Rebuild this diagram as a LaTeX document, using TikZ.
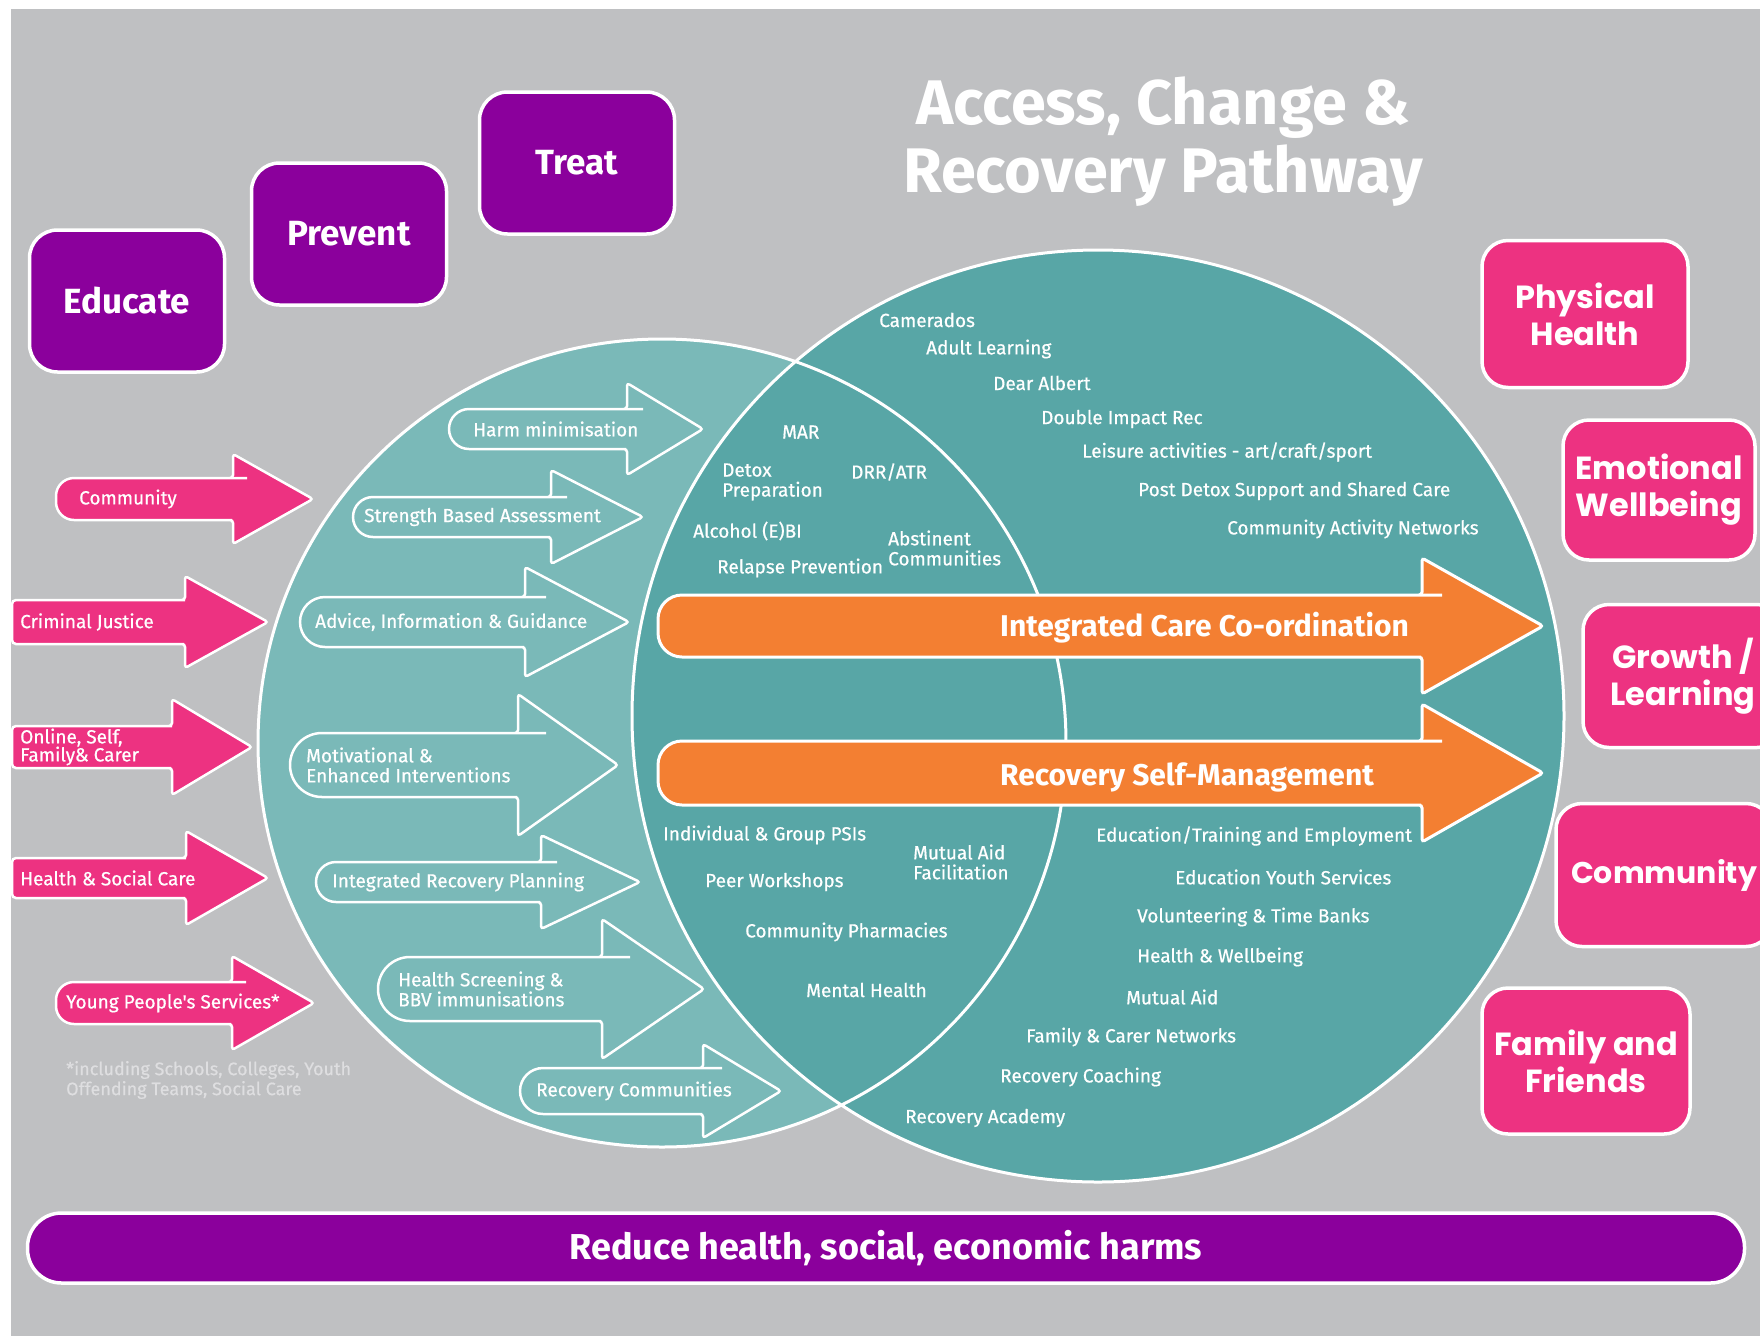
\documentclass[tikz,border=0pt]{standalone}
\usepackage{fontspec}
\setmainfont{Fira Sans}
\newfontfamily\lblfont[FakeBold=0.6]{Fira Sans}
\newfontfamily\boxfont{Poppins}
\definecolor{bggrey}{RGB}{191,192,194}
\definecolor{tealleft}{RGB}{122,185,184}
\definecolor{tealright}{RGB}{88,166,166}
\definecolor{pathorange}{RGB}{243,127,50}
\definecolor{hotpink}{RGB}{237,50,129}
\definecolor{deeppurple}{RGB}{139,0,156}
\definecolor{notegrey}{RGB}{222,222,224}

% Blockpfeil: [Stil]{x hinten}{x Kopfansatz}{x Spitze}{y Mitte}{halbe Schaftbreite}{halbe Kopfbreite}{Radius hinten}
\newcommand{\blockarrow}[8][]{%
  \draw[#1, rounded corners=3pt] (#4,#5) -- (#3,{#5+#7}) -- (#3,{#5+#6}) -- ({#3-4},{#5+#6})
    [rounded corners=#8] -- (#2,{#5+#6}) -- (#2,{#5-#6}) -- ({#3-4},{#5-#6})
    [rounded corners=3pt] -- (#3,{#5-#6}) -- (#3,{#5-#7}) -- cycle;}

\begin{document}
\begin{tikzpicture}[x=1pt, y=-1pt,
    lbl/.style={anchor=west, text=white, inner sep=0pt, align=left, font=\lblfont\fontsize{19}{20}\selectfont},
    ghostarrow/.style={draw=white, line width=2.5pt},
    pinkarrow/.style={fill=hotpink, draw=white, line width=2.5pt},
    orangearrow/.style={fill=pathorange, draw=white, line width=3pt},
    arrowtext/.style={anchor=west, text=white, inner sep=0pt, font=\fontsize{30}{32}\selectfont\bfseries},
    title/.style={text=white, align=center, font=\fontsize{63}{68}\selectfont\bfseries},
    purplebox/.style={fill=deeppurple, draw=white, line width=3.5pt, rounded corners=28pt,
      minimum width=195pt, minimum height=142pt, text=white, font=\fontsize{35}{38}\selectfont\bfseries},
    pinkbox/.style={fill=hotpink, draw=white, line width=3.5pt, rounded corners=26pt,
      text=white, align=center, font=\boxfont\fontsize{32}{37}\selectfont\bfseries},
    harmbar/.style={fill=deeppurple, draw=white, line width=3.5pt, rounded corners=34pt,
      minimum width=1717pt, minimum height=70pt, text=white, font=\fontsize{36}{38}\selectfont\bfseries}]
  % Rahmen und Hintergrund
  \useasboundingbox (0,0) rectangle (1760,1336);
  \clip (0,0) rectangle (1760,1336);
  \fill[white] (0,0) rectangle (1760,1336);
  \fill[bggrey] (11,9) rectangle (1760,1336);

  % Ueberschrift
  \node[title] (title) at (1163,142) {Access, Change \&\\Recovery Pathway};

  % Educate - Prevent - Treat
  \node[purplebox] (educate) at (127,301) {Educate};
  \node[purplebox] (prevent) at (349,234) {Prevent};
  \node[purplebox] (treat) at (577,163) {Treat};

  % die beiden Kreise
  \fill[tealleft] (662,743) circle[radius=404];
  \fill[tealright] (1098,716) circle[radius=466];
  \draw[white, line width=3pt] (662,743) circle[radius=404] (1098,716) circle[radius=466];

  % Pfeile im linken Kreis
  \foreach \xa/\xb/\xc/\ym/\sw/\hw/\tx/\txt [count=\i] in {
      449/627/703/429/20/46/473/{Harm minimisation},
      353/551/643/517/20/47/364/{Strength Based Assessment},
      300/525/629/622/25/55/315/{Advice, Information \& Guidance},
      290/518/618/765/32/71/306/{Motivational \&\\Enhanced Interventions},
      316/541/640/882/20/47/332/{Integrated Recovery Planning},
      378/602/704/989/32/70/398/{Health Screening \&\\BBV immunisations},
      520/703/781/1091/23/47/536/{Recovery Communities}} {
    \blockarrow[ghostarrow]{\xa}{\xb}{\xc}{\ym}{\sw}{\hw}{\sw pt}
    \node[lbl] (svc\i) at (\tx,\ym) {\txt};
  }

  % Schnittmenge
  \foreach \px/\py/\txt [count=\i] in {
      782/432/MAR, 722/482/{Detox\\Preparation}, 851/472/{DRR/ATR},
      693/531/{Alcohol (E)BI}, 888/548/{Abstinent\\Communities}, 717/568/{Relapse Prevention},
      663/835/{Individual \& Group PSIs}, 913/862/{Mutual Aid\\Facilitation},
      705/882/{Peer Workshops}, 745/932/{Community Pharmacies}, 806/990/{Mental Health}}
    \node[lbl] (lens\i) at (\px,\py) {\txt};

  % rechter Kreis
  \foreach \px/\py/\txt [count=\i] in {
      879/320/Camerados, 926/349/{Adult Learning}, 993/383/{Dear Albert},
      1041/419/{Double Impact Rec}, 1082/452/{Leisure activities - art/craft/sport},
      1138/491/{Post Detox Support and Shared Care}, 1227/529/{Community Activity Networks},
      1096/836/{Education/Training and Employment}, 1175/877/{Education Youth Services},
      1137/917/{Volunteering \& Time Banks}, 1137/957/{Health \& Wellbeing},
      1126/997/{Mutual Aid}, 1026/1037/{Family \& Carer Networks},
      1000/1077/{Recovery Coaching}, 905/1118/{Recovery Academy}}
    \node[lbl] (outer\i) at (\px,\py) {\txt};

  % orange Pfeile
  \blockarrow[orangearrow]{658}{1422}{1543}{626}{31}{68}{24pt}
  \blockarrow[orangearrow]{658}{1422}{1543}{773}{32}{69}{24pt}
  \node[arrowtext] (coord) at (1000,628) {Integrated Care Co-ordination};
  \node[arrowtext] (selfman) at (1000,777) {Recovery Self-Management};

  % Zugaenge links
  \foreach \xa/\xb/\xc/\ym/\sw/\hw/\r/\tx/\txt [count=\i] in {
      56/233/313/499/21/45/18/79/{Community},
      12/185/268/622/22/46/4/20/{Criminal Justice},
      12/172/252/747/21/48/4/20/{Online, Self,\\Family\& Carer},
      12/186/268/878/20/47/4/20/{Health \& Social Care},
      56/232/314/1003/21/47/18/66/{Young People's Services*}} {
    \blockarrow[pinkarrow]{\xa}{\xb}{\xc}{\ym}{\sw}{\hw}{\r pt}
    \node[lbl, font=\lblfont\fontsize{19}{18}\selectfont] (in\i) at (\tx,\ym) {\txt};
  }
  \node[lbl, text=notegrey, font=\lblfont\fontsize{18}{20}\selectfont] (note) at (66,1080)
    {*including Schools, Colleges, Youth\\Offending Teams, Social Care};

  % Ergebnisse rechts
  \node[pinkbox, minimum width=206pt, minimum height=147pt] (physical) at (1585,314) {Physical\\Health};
  \node[pinkbox, minimum width=192pt, minimum height=140pt] (emotional) at (1659,490) {Emotional\\Wellbeing};
  \node[pinkbox, minimum width=200pt, minimum height=143pt] (growth) at (1683,676) {Growth /\\Learning};
  \node[pinkbox, minimum width=216pt, minimum height=143pt, font=\boxfont\fontsize{30}{36}\selectfont\bfseries]
    (commbox) at (1664,875) {Community};
  \node[pinkbox, minimum width=208pt, minimum height=146pt] (family) at (1586,1061) {Family and\\Friends};

  % Balken unten
  \node[harmbar] (harms) at (886,1248) {Reduce health, social, economic harms};
\end{tikzpicture}
\end{document}
